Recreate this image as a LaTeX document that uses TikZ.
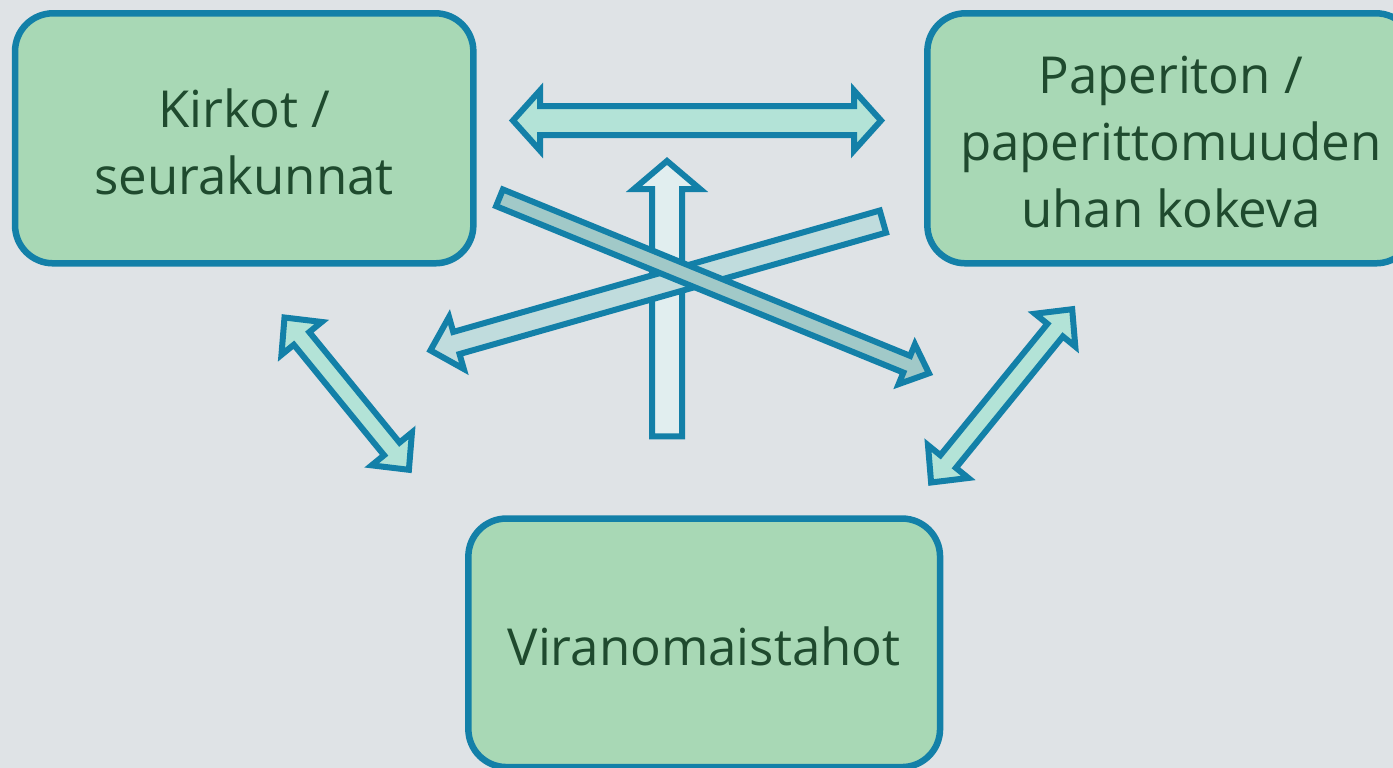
\documentclass[tikz,border=0pt]{standalone}
\usepackage{fontspec}
\setmainfont{Open Sans}
\definecolor{bg}{HTML}{DFE3E6}
\definecolor{boxfill}{HTML}{A8D8B5}
\definecolor{edge}{HTML}{1380A8}
\definecolor{txt}{HTML}{1F4A2E}
\definecolor{arrA}{HTML}{B3E3D7}
\definecolor{arrUp}{HTML}{E1EEEF}
\definecolor{arrDR}{HTML}{A1C9C8}
\definecolor{arrDL}{HTML}{C0DCDD}
\newcommand\myStrut{\rule{0pt}{45pt}}
\tikzset{
  partybox/.style={draw=edge, fill=boxfill, line width=6.5pt, rounded corners=38pt,
    text=txt, align=center, inner sep=0pt,
    font=\fontsize{51}{67}\selectfont},
  arrline/.style={draw=edge, line width=6pt, line join=miter}
}
% double arrow: style, x1,y1, x2,y2, shaft hw, head hw, head length
\newcommand\myDbl[8]{%
  \pgfmathsetmacro\myAng{atan2(#5-#3,#4-#2)}%
  \pgfmathsetmacro\myLen{veclen(#4-#2,#5-#3)}%
  \pgfmathsetmacro\myB{\myLen-#8}%
  \begin{scope}[shift={(#2,#3)}, rotate=-\myAng]
    \draw[arrline,#1] (0,0) -- (#8,#7) -- (#8,#6) -- (\myB,#6) -- (\myB,#7) -- (\myLen,0)
      -- (\myB,-#7) -- (\myB,-#6) -- (#8,-#6) -- (#8,-#7) -- cycle;
  \end{scope}}
\newcommand\mySgl[8]{%
  \pgfmathsetmacro\myAng{atan2(#5-#3,#4-#2)}%
  \pgfmathsetmacro\myLen{veclen(#4-#2,#5-#3)}%
  \pgfmathsetmacro\myB{\myLen-#8}%
  \begin{scope}[shift={(#2,#3)}, rotate=-\myAng]
    \draw[arrline,#1] (0,-#6) -- (\myB,-#6) -- (\myB,-#7) -- (\myLen,0)
      -- (\myB,#7) -- (\myB,#6) -- (0,#6) -- cycle;
  \end{scope}}
\begin{document}
\begin{tikzpicture}[x=1pt,y=-1pt]
\useasboundingbox (0,0) rectangle (1393,768);
\fill[bg] (0,0) rectangle (1393,768);
% boxes
\node[partybox, minimum width=458.3pt, minimum height=250pt] (kirkot) at (244.2,138.3)
  {\myStrut Kirkot /\\seurakunnat};
\node[partybox, minimum width=486.7pt, minimum height=250pt] (paperiton) at (1170.7,138.3)
  {\myStrut Paperiton /\\paperittomuuden\\uhan kokeva};
\node[partybox, minimum width=471.7pt, minimum height=248.5pt] (viranom) at (704.2,642.8)
  {\myStrut Viranomaistahot};
% arrows
\myDbl{fill=arrA}{513}{120.5}{881}{120.5}{14.5}{30}{27}
\myDbl{fill=arrA}{284.5}{317.5}{408.9}{469.8}{10}{26}{27}
\myDbl{fill=arrA}{931.1}{482.5}{1072.2}{309.2}{10}{26}{27}
\mySgl{fill=arrUp}{667}{436.3}{667}{161}{15}{33}{28}
\mySgl{fill=arrDL}{882.9}{221.6}{430.4}{350.4}{11.5}{27}{27}
\mySgl{fill=arrDR}{499.5}{197.8}{929}{373.3}{9}{21.5}{24}
\end{tikzpicture}
\end{document}
